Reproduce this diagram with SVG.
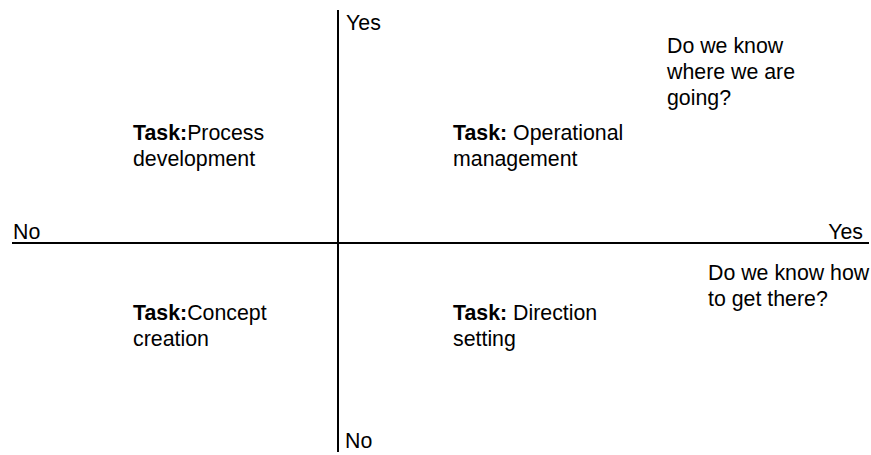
<svg xmlns="http://www.w3.org/2000/svg" width="871" height="455" viewBox="0 0 871 455">
<style>
text{font-family:"Liberation Sans",Arial,sans-serif;font-size:21.33px;fill:#000}
.b{font-weight:bold}
.ax{stroke:#000;stroke-width:2;fill:none}
</style>
<rect width="871" height="455" fill="#fff"/>
<g id="connectors">
<line class="ax" x1="338" y1="10" x2="338" y2="452"/>
<line class="ax" x1="12" y1="243" x2="869" y2="243"/>
</g>
<g id="axis-labels">
<text x="346" y="30">Yes</text>
<text x="345" y="448">No</text>
<text x="13" y="239">No</text>
<text x="863" y="239" text-anchor="end">Yes</text>
</g>
<g id="q-vertical">
<text x="667" y="53">Do we know</text>
<text x="667" y="79">where we are</text>
<text x="667" y="105">going?</text>
</g>
<g id="q-horizontal">
<text x="708" y="280">Do we know how</text>
<text x="708" y="306">to get there?</text>
</g>
<g id="process-development">
<text x="133" y="140"><tspan class="b">Task:</tspan>Process</text>
<text x="133" y="166">development</text>
</g>
<g id="operational-management">
<text x="453" y="140"><tspan class="b">Task:</tspan> Operational</text>
<text x="453" y="166">management</text>
</g>
<g id="concept-creation">
<text x="133" y="320"><tspan class="b">Task:</tspan>Concept</text>
<text x="133" y="346">creation</text>
</g>
<g id="direction-setting">
<text x="453" y="320"><tspan class="b">Task:</tspan> Direction</text>
<text x="453" y="346">setting</text>
</g>
</svg>
